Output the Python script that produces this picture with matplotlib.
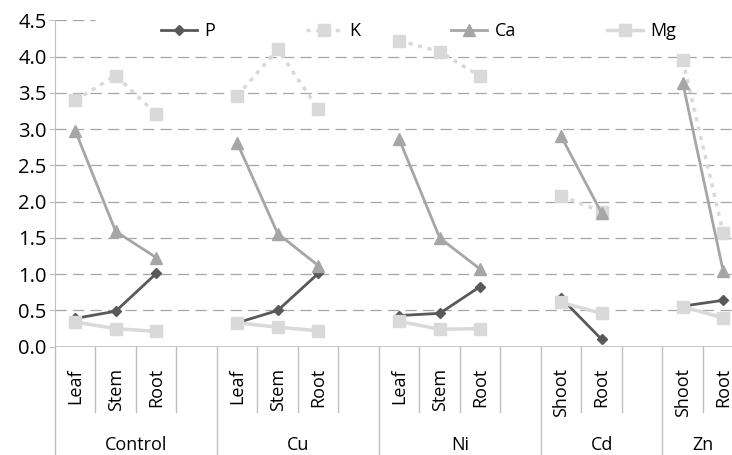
import numpy as np
import matplotlib.pyplot as plt
import matplotlib.transforms as mtransforms

plt.rcParams['font.family'] = ['Open Sans', 'DejaVu Sans']

nan = np.nan
categories = ['Leaf', 'Stem', 'Root', '', 'Leaf', 'Stem', 'Root', '',
              'Leaf', 'Stem', 'Root', '', 'Shoot', 'Root', '', 'Shoot', 'Root']
groups = ['Control', 'Cu', 'Ni', 'Cd', 'Zn']
group_sizes = [4, 4, 4, 3, 2]

P = [0.39, 0.49, 1.01, nan, 0.33, 0.50, 1.01, nan, 0.43, 0.46, 0.83, nan, 0.67, 0.10, nan, 0.56, 0.64]
K = [3.40, 3.74, 3.21, nan, 3.46, 4.10, 3.28, nan, 4.22, 4.07, 3.73, nan, 2.08, 1.86, nan, 3.95, 1.57]
Ca = [2.98, 1.59, 1.23, nan, 2.81, 1.56, 1.12, nan, 2.86, 1.50, 1.07, nan, 2.90, 1.84, nan, 3.64, 1.04]
Mg = [0.34, 0.25, 0.21, nan, 0.33, 0.27, 0.22, nan, 0.35, 0.24, 0.25, nan, 0.61, 0.46, nan, 0.55, 0.40]
yticks = np.arange(0, 4.51, 0.5)

fig = plt.figure(figsize=(7.32, 4.55), dpi=100)
ax = fig.add_axes([0.0751, 0.238, 0.9406, 0.717])
x = np.arange(len(categories))

ax.plot(x, P, color='#595959', lw=2, marker='D', ms=5.5, label='P')
ax.plot(x, K, color='#D9D9D9', lw=2.5, ls=(0, (1.2, 1.6)), marker='s', ms=8, label='K')
ax.plot(x, Ca, color='#A6A6A6', lw=2, marker='^', ms=8.5, label='Ca')
ax.plot(x, Mg, color='#D9D9D9', lw=2.5, marker='s', ms=8, label='Mg')

ax.set_xlim(-0.5, len(categories) - 0.5)
ax.set_ylim(0, 4.5)
ax.set_yticks(yticks)
ax.set_yticklabels(['%.1f' % v for v in yticks])
ax.tick_params(axis='y', length=4.5, width=0.8, color='#BFBFBF', pad=1.5, labelsize=14.5)
ax.set_xticks([])

for v in yticks[:-1]:
    ax.axhline(v, color='#A6A6A6', lw=0.9, ls=(0, (9, 5)), zorder=0)
ax.axhline(yticks[-1], xmax=0.058, color='#A6A6A6', lw=0.9, ls=(0, (9, 5)), zorder=0)

for s in ['top', 'right', 'bottom']:
    ax.spines[s].set_visible(False)
ax.spines['left'].set_color('#BFBFBF')
ax.axhline(0, color='#BFBFBF', lw=1.2, zorder=1)

trans = mtransforms.blended_transform_factory(ax.transData, ax.transAxes)
# category labels and separators
for i, c in enumerate(categories):
    ax.text(i, -0.065, c, rotation=90, ha='center', va='top', fontsize=13, transform=trans)
starts = np.cumsum([0] + group_sizes)
for g, (a, b) in zip(groups, zip(starts[:-1], starts[1:])):
    ax.plot([a - 0.5, a - 0.5], [0, -0.35], color='#BFBFBF', lw=1, transform=trans, clip_on=False)
    for k in range(a + 1, b):
        ax.plot([k - 0.5, k - 0.5], [0, -0.2], color='#BFBFBF', lw=1, transform=trans, clip_on=False)
    ax.text((a + b - 1) / 2, -0.3, g, ha='center', va='center', fontsize=13, transform=trans)

ax.legend(ncol=4, mode='expand', loc='center', frameon=False, fontsize=13,
          bbox_to_anchor=(0.2077, 0.907, 0.7281, 0.05), bbox_transform=fig.transFigure,
          borderpad=0, handlelength=2.0, handletextpad=0.4)

fig.savefig('out.png', dpi=100)
